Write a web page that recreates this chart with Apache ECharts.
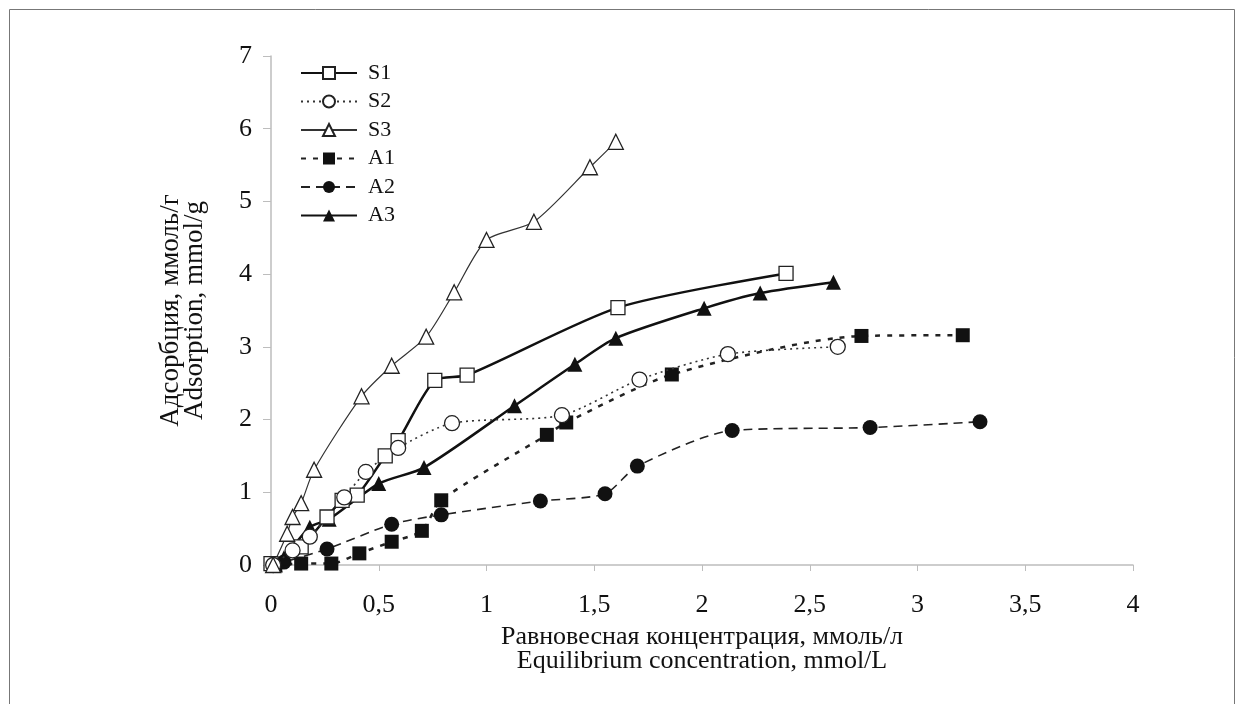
<!DOCTYPE html>
<html>
<head>
<meta charset="utf-8">
<script src="https://cdn.jsdelivr.net/npm/echarts@6/dist/echarts.min.js"></script>
<style>
html,body{margin:0;padding:0;background:#fff;}
#chart{width:1243px;height:704px;}
</style>
</head>
<body>
<div id="chart"></div>
<script>
// значения
var xTicks = [0, 0.5, 1, 1.5, 2, 2.5, 3, 3.5, 4];
var yTicks = [0, 1, 2, 3, 4, 5, 6, 7];

var s1 = [[0, 0.02], [0.14, 0.25], [0.26, 0.66], [0.33, 0.89], [0.40, 0.96], [0.53, 1.50], [0.59, 1.71], [0.76, 2.54], [0.91, 2.61], [1.61, 3.54], [2.39, 4.01]];
var s2 = [[0.01, 0], [0.10, 0.20], [0.18, 0.39], [0.34, 0.93], [0.44, 1.28], [0.59, 1.61], [0.84, 1.95], [1.35, 2.06], [1.71, 2.55], [2.12, 2.90], [2.63, 3.00]];
var s3 = [[0.01, 0], [0.075, 0.43], [0.10, 0.66], [0.14, 0.85], [0.20, 1.31], [0.42, 2.32], [0.56, 2.74], [0.72, 3.14], [0.85, 3.75], [1.00, 4.47], [1.22, 4.72], [1.48, 5.47], [1.60, 5.82]];
var a1 = [[0.02, 0], [0.14, 0.02], [0.28, 0.02], [0.41, 0.16], [0.56, 0.32], [0.70, 0.47], [0.79, 0.89], [1.28, 1.79], [1.37, 1.96], [1.86, 2.62], [2.74, 3.15], [3.21, 3.16]];
var a2 = [[0.02, 0], [0.06, 0.04], [0.26, 0.22], [0.56, 0.56], [0.79, 0.69], [1.25, 0.88], [1.55, 0.98], [1.70, 1.36], [2.14, 1.85], [2.78, 1.89], [3.29, 1.97]];
var a3 = [[0.02, 0], [0.06, 0.10], [0.18, 0.52], [0.27, 0.63], [0.50, 1.12], [0.71, 1.34], [1.13, 2.19], [1.41, 2.76], [1.60, 3.12], [2.01, 3.53], [2.27, 3.74], [2.61, 3.89]];

var font = 'Liberation Serif';
var chart = echarts.init(document.getElementById('chart'));

function line(name, data, symbol, filled, lineStyle, size) {
	return {
		name: name,
		type: 'line',
		data: data,
		symbol: symbol,
		symbolSize: size,
		smooth: 0.25,
		lineStyle: lineStyle,
		itemStyle: {
			color: filled ? '#111' : '#fff',
			borderColor: '#222',
			borderWidth: filled ? 0 : 1.3
		},
		emphasis: {disabled: true},
		z: filled ? 3 : 4
	};
}

chart.setOption({
	animation: false,
	backgroundColor: '#fff',
	graphic: [{
		type: 'rect',
		shape: {x: 9.5, y: 9.5, width: 1225, height: 720},
		style: {fill: 'none', stroke: '#777', lineWidth: 1},
		silent: true
	}],
	grid: {left: 271, right: 110, top: 56, bottom: 139},
	legend: {
		orient: 'vertical',
		left: 300,
		top: 62,
		padding: 0,
		itemWidth: 56,
		itemHeight: 15,
		itemGap: 6.5,
		textStyle: {fontFamily: font, fontSize: 22, color: '#111', padding: [0, 0, 0, 6]},
		data: ['S1', 'S2', 'S3', 'A1', 'A2', 'A3']
	},
	xAxis: {
		type: 'value',
		min: 0,
		max: 4,
		interval: 0.5,
		splitLine: {show: false},
		axisLine: {lineStyle: {color: '#bdbdbd', width: 1.5}},
		axisTick: {show: true, length: 6, lineStyle: {color: '#bdbdbd'}},
		axisLabel: {
			fontFamily: font, fontSize: 26, color: '#111', margin: 27,
			formatter: function (v) { return String(v).replace('.', ','); }
		},
		name: 'Равновесная концентрация, ммоль/л\nEquilibrium concentration, mmol/L',
		nameLocation: 'middle',
		nameGap: 60,
		nameTextStyle: {fontFamily: font, fontSize: 26, color: '#111', lineHeight: 24}
	},
	yAxis: {
		type: 'value',
		min: 0,
		max: 7,
		interval: 1,
		splitLine: {show: false},
		axisLine: {show: true, lineStyle: {color: '#bdbdbd', width: 1.5}},
		axisTick: {show: true, length: 8, lineStyle: {color: '#bdbdbd'}},
		axisLabel: {fontFamily: font, fontSize: 26, color: '#111', margin: 19},
		name: 'Адсорбция, ммоль/г\nAdsorption, mmol/g',
		nameLocation: 'middle',
		nameGap: 64,
		nameRotate: 90,
		nameTextStyle: {fontFamily: font, fontSize: 27, color: '#111', lineHeight: 24}
	},
	series: [
		line('S1', s1, 'rect', false, {color: '#111', width: 2.5, type: 'solid'}, 14),
		line('S2', s2, 'circle', false, {color: '#333', width: 1.6, type: [2, 4]}, 15),
		line('S3', s3, 'triangle', false, {color: '#333', width: 1.2, type: 'solid'}, 15),
		line('A1', a1, 'rect', true, {color: '#222', width: 2.5, type: [5, 7]}, 14),
		line('A2', a2, 'circle', true, {color: '#222', width: 1.6, type: [9, 6]}, 15),
		line('A3', a3, 'triangle', true, {color: '#111', width: 2.5, type: 'solid'}, 15)
	]
});
</script>
</body>
</html>
